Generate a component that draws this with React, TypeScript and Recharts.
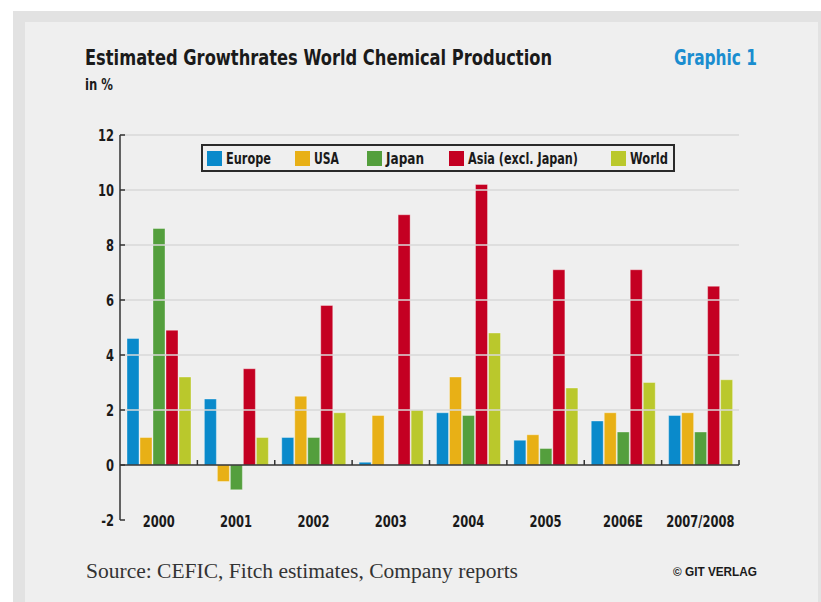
import React from 'react';
import { BarChart, Bar, XAxis, YAxis, ReferenceLine, Legend } from 'recharts';

// Growth rates of chemical production, in percent
const years = ['2000', '2001', '2002', '2003', '2004', '2005', '2006E', '2007/2008'];
const europe = [4.6, 2.4, 1.0, 0.1, 1.9, 0.9, 1.6, 1.8];
const usa = [1.0, -0.6, 2.5, 1.8, 3.2, 1.1, 1.9, 1.9];
const japan = [8.6, -0.9, 1.0, 0, 1.8, 0.6, 1.2, 1.2];
const asia = [4.9, 3.5, 5.8, 9.1, 10.2, 7.1, 7.1, 6.5];
const world = [3.2, 1.0, 1.9, 2.0, 4.8, 2.8, 3.0, 3.1];

const yTicks = [-2, 0, 2, 4, 6, 8, 10, 12];
const gridValues = [2, 4, 6, 8, 10, 12];

const series = [
  { key: 'europe', name: 'Europe', color: '#0a8acb' },
  { key: 'usa', name: 'USA', color: '#e8b016' },
  { key: 'japan', name: 'Japan', color: '#549f3d' },
  { key: 'asia', name: 'Asia (excl. Japan)', color: '#c40022' },
  { key: 'world', name: 'World', color: '#bac82c' },
];

// legend item layout inside the framed box: swatch offset and label width
const legendSlots = [
  { x: 6, w: 45 },
  { x: 94, w: 25 },
  { x: 166, w: 38 },
  { x: 248, w: 110 },
  { x: 410, w: 38 },
];

const data = years.map((year, i) => ({
  year,
  europe: europe[i],
  usa: usa[i],
  japan: japan[i],
  asia: asia[i],
  world: world[i],
}));

const NARROW = "'Liberation Sans Narrow', 'DejaVu Sans Condensed', 'Roboto Condensed', sans-serif";
const INK = '#1a1a1a';

const YTick = (props: any) => {
  const { x, y, payload } = props;
  return (
    <g>
      <line x1={x + 6} x2={x + 11} y1={y} y2={y} stroke="#333" strokeWidth={1.5} />
      <text
        transform={`translate(${x},${y}) scale(0.8,1)`}
        textAnchor="end"
        dominantBaseline="central"
        fontFamily={NARROW}
        fontWeight="bold"
        fontSize={16}
        fill={INK}
      >
        {payload.value}
      </text>
    </g>
  );
};

const XTick = (props: any) => {
  const { x, y, payload } = props;
  return (
    <text
      transform={`translate(${x},${y + 1}) scale(0.8,1)`}
      textAnchor="middle"
      dominantBaseline="central"
      fontFamily={NARROW}
      fontWeight="bold"
      fontSize={16}
      fill={INK}
    >
      {payload.value}
    </text>
  );
};

// Zero line with short upward ticks between the year groups
const ZeroAxis = (props: any) => {
  const { x1, x2, y1 } = props;
  const n = years.length;
  const step = (x2 - x1) / n;
  const marks = years.map((_, i) => x1 + step * (i + 1));
  return (
    <g>
      <line x1={x1} x2={x2} y1={y1} y2={y1} stroke="#333" strokeWidth={1.5} />
      {marks.map((mx, i) => (
        <line key={i} x1={mx} x2={mx} y1={y1} y2={y1 - 5} stroke="#333" strokeWidth={1.5} />
      ))}
    </g>
  );
};

const LegendBox = (props: any) => {
  const order = series.map((s) => s.name);
  const items = [...(props.payload || [])].sort(
    (a: any, b: any) => order.indexOf(a.value) - order.indexOf(b.value)
  );
  return (
    <svg width={474} height={28} style={{ display: 'block', overflow: 'visible' }}>
      <rect x={1} y={1} width={472} height={26} fill="#efefef" stroke="#2a2a2a" strokeWidth={2} />
      {items.map((entry: any, i: number) => {
        const slot = legendSlots[i];
        return (
          <g key={entry.value}>
            <rect x={slot.x} y={7} width={15} height={15} fill={entry.color} />
            <text
              x={slot.x + 19}
              y={15}
              dominantBaseline="central"
              fontFamily={NARROW}
              fontWeight="bold"
              fontSize={15}
              fill={INK}
              textLength={slot.w}
              lengthAdjust="spacingAndGlyphs"
            >
              {entry.value}
            </text>
          </g>
        );
      })}
    </svg>
  );
};

export default function App() {
  return (
    <div style={{ position: 'absolute', left: 0, top: 0, width: 821, height: 602, background: '#ffffff', overflow: 'hidden' }}>
      <div style={{ position: 'absolute', left: 13, top: 11, width: 808, height: 591, background: '#e2e2e2' }} />
      <div style={{ position: 'absolute', left: 25, top: 22, width: 793, height: 580, background: '#efefef' }} />

      <svg width={821} height={602} style={{ position: 'absolute', left: 0, top: 0 }}>
        <text x={85} y={65} fontFamily={NARROW} fontWeight="bold" fontSize={22} fill={INK}
          textLength={467} lengthAdjust="spacingAndGlyphs">
          Estimated Growthrates World Chemical Production
        </text>
        <text x={85} y={90} fontFamily={NARROW} fontWeight="bold" fontSize={16} fill={INK}
          textLength={28} lengthAdjust="spacingAndGlyphs">
          in %
        </text>
        <text x={674} y={65} fontFamily={NARROW} fontWeight="bold" fontSize={22} fill="#1a8dcf"
          textLength={83} lengthAdjust="spacingAndGlyphs">
          Graphic 1
        </text>
        <text x={86} y={578} fontFamily="'Liberation Serif', 'DejaVu Serif', serif" fontSize={20} fill="#333"
          textLength={432} lengthAdjust="spacingAndGlyphs">
          Source: CEFIC, Fitch estimates, Company reports
        </text>
        <text x={673} y={576} fontFamily="'Liberation Sans', Arial, sans-serif" fontWeight="bold" fontSize={12.5} fill={INK}
          textLength={84} lengthAdjust="spacingAndGlyphs">
          © GIT VERLAG
        </text>
      </svg>

      <div style={{ position: 'absolute', left: 0, top: 0 }}>
        <BarChart
          width={821}
          height={602}
          data={data}
          margin={{ top: 135, right: 82, bottom: 52, left: 80 }}
          barCategoryGap={7}
          barGap={1}
        >
          <XAxis
            dataKey="year"
            axisLine={false}
            tickLine={false}
            tickSize={0}
            tickMargin={0}
            height={30}
            tick={<XTick />}
            interval={0}
          />
          <YAxis
            domain={[-2, 12]}
            ticks={yTicks}
            width={40}
            axisLine={{ stroke: '#333', strokeWidth: 1.5 }}
            tickLine={false}
            tickSize={0}
            tickMargin={6}
            tick={<YTick />}
            interval={0}
            allowDataOverflow
          />
          {gridValues.map((v) => (
            <ReferenceLine key={v} y={v} stroke="#d9d9d9" strokeWidth={1.5} />
          ))}
          <Legend
            layout="horizontal"
            verticalAlign="middle"
            align="center"
            content={<LegendBox />}
            wrapperStyle={{ position: 'absolute', top: 144, left: 201, width: 474, height: 28 }}
          />
          {series.map((s) => (
            <Bar
              key={s.key}
              dataKey={s.key}
              name={s.name}
              fill={s.color}
              stroke="#ffffff"
              strokeOpacity={0.35}
              strokeWidth={1}
              isAnimationActive={false}
            />
          ))}
          <ReferenceLine y={0} shape={<ZeroAxis />} />
        </BarChart>
      </div>
    </div>
  );
}
